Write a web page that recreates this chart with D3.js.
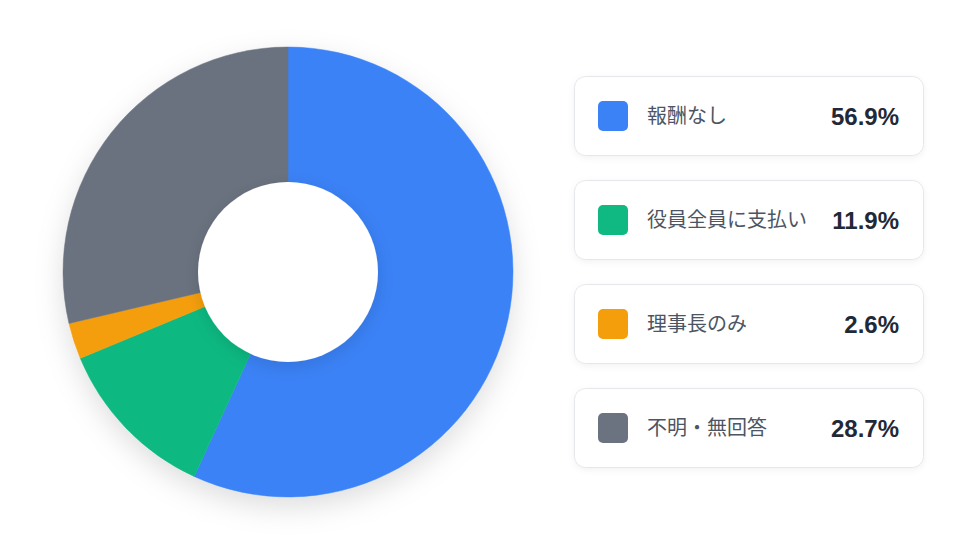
<!DOCTYPE html>
<html><head><meta charset="utf-8">
<script src="https://cdn.jsdelivr.net/npm/d3@7"></script>
<style>
html,body{margin:0;padding:0;background:#fff;}
svg{display:block;}
</style></head>
<body>
<svg id="chart" width="973" height="548"></svg>
<script>
const categories = ["報酬なし", "役員全員に支払い", "理事長のみ", "不明・無回答"];
const values = [56.9, 11.9, 2.6, 28.7];
const colors = ["#3b82f6", "#10b981", "#f59e0b", "#6b7280"];

const data = categories.map((c, i) => ({ name: c, value: values[i], color: colors[i] }));
const svg = d3.select("#chart");
const defs = svg.append("defs");

const f1 = defs.append("filter").attr("id", "outerShadow").attr("x", "-30%").attr("y", "-30%").attr("width", "160%").attr("height", "160%");
f1.append("feDropShadow").attr("dx", 0).attr("dy", 10).attr("stdDeviation", 14).attr("flood-color", "#000").attr("flood-opacity", 0.13);

const f2 = defs.append("filter").attr("id", "innerShadow").attr("x", "-40%").attr("y", "-40%").attr("width", "180%").attr("height", "180%");
f2.append("feDropShadow").attr("dx", 0).attr("dy", 4).attr("stdDeviation", 8).attr("flood-color", "#000").attr("flood-opacity", 0.12);

const f3 = defs.append("filter").attr("id", "cardShadow").attr("x", "-10%").attr("y", "-20%").attr("width", "120%").attr("height", "150%");
f3.append("feDropShadow").attr("dx", 0).attr("dy", 2).attr("stdDeviation", 3).attr("flood-color", "#000").attr("flood-opacity", 0.05);

const cx = 288, cy = 272, R = 225, r = 90;
const pie = d3.pie().value(d => d.value).sort(null);
const arc = d3.arc().innerRadius(0).outerRadius(R);

const g = svg.append("g").attr("transform", `translate(${cx},${cy})`);
const pg = g.append("g").attr("filter", "url(#outerShadow)");
pg.selectAll("path").data(pie(data)).join("path")
  .attr("d", arc).attr("fill", d => d.data.color)
  .attr("stroke", d => d.data.color).attr("stroke-width", 0.5);
g.append("circle").attr("r", r).attr("fill", "#fff").attr("filter", "url(#innerShadow)");

// legend cards
const cardX = 574, cardY0 = 76, cardW = 350, cardH = 80, gap = 104;
const y = d3.scalePoint().domain(categories).range([cardY0, cardY0 + gap * (categories.length - 1)]);
const cards = svg.append("g").selectAll("g").data(data).join("g")
  .attr("transform", d => `translate(${cardX},${y(d.name)})`);
cards.append("rect").attr("x", 0.5).attr("y", 0.5).attr("width", cardW - 1).attr("height", cardH - 1)
  .attr("rx", 11).attr("fill", "#fff").attr("stroke", "#e5e7eb").attr("stroke-width", 1)
  .attr("filter", "url(#cardShadow)");
cards.append("rect").attr("x", 24).attr("y", 25).attr("width", 30).attr("height", 30).attr("rx", 5)
  .attr("fill", d => d.color);
cards.append("text").attr("x", 73).attr("y", cardH / 2 + 7)
  .attr("font-family", "'Noto Sans CJK JP', 'Noto Sans', sans-serif").attr("font-size", 20)
  .attr("fill", "#4b5563").text(d => d.name);
cards.append("text").attr("x", cardW - 25).attr("y", cardH / 2 + 9).attr("text-anchor", "end")
  .attr("font-family", "'Liberation Sans', Arial, sans-serif").attr("font-weight", 700).attr("font-size", 24)
  .attr("fill", "#1f2937").text(d => d.value.toFixed(1) + "%");
</script>
</body></html>
